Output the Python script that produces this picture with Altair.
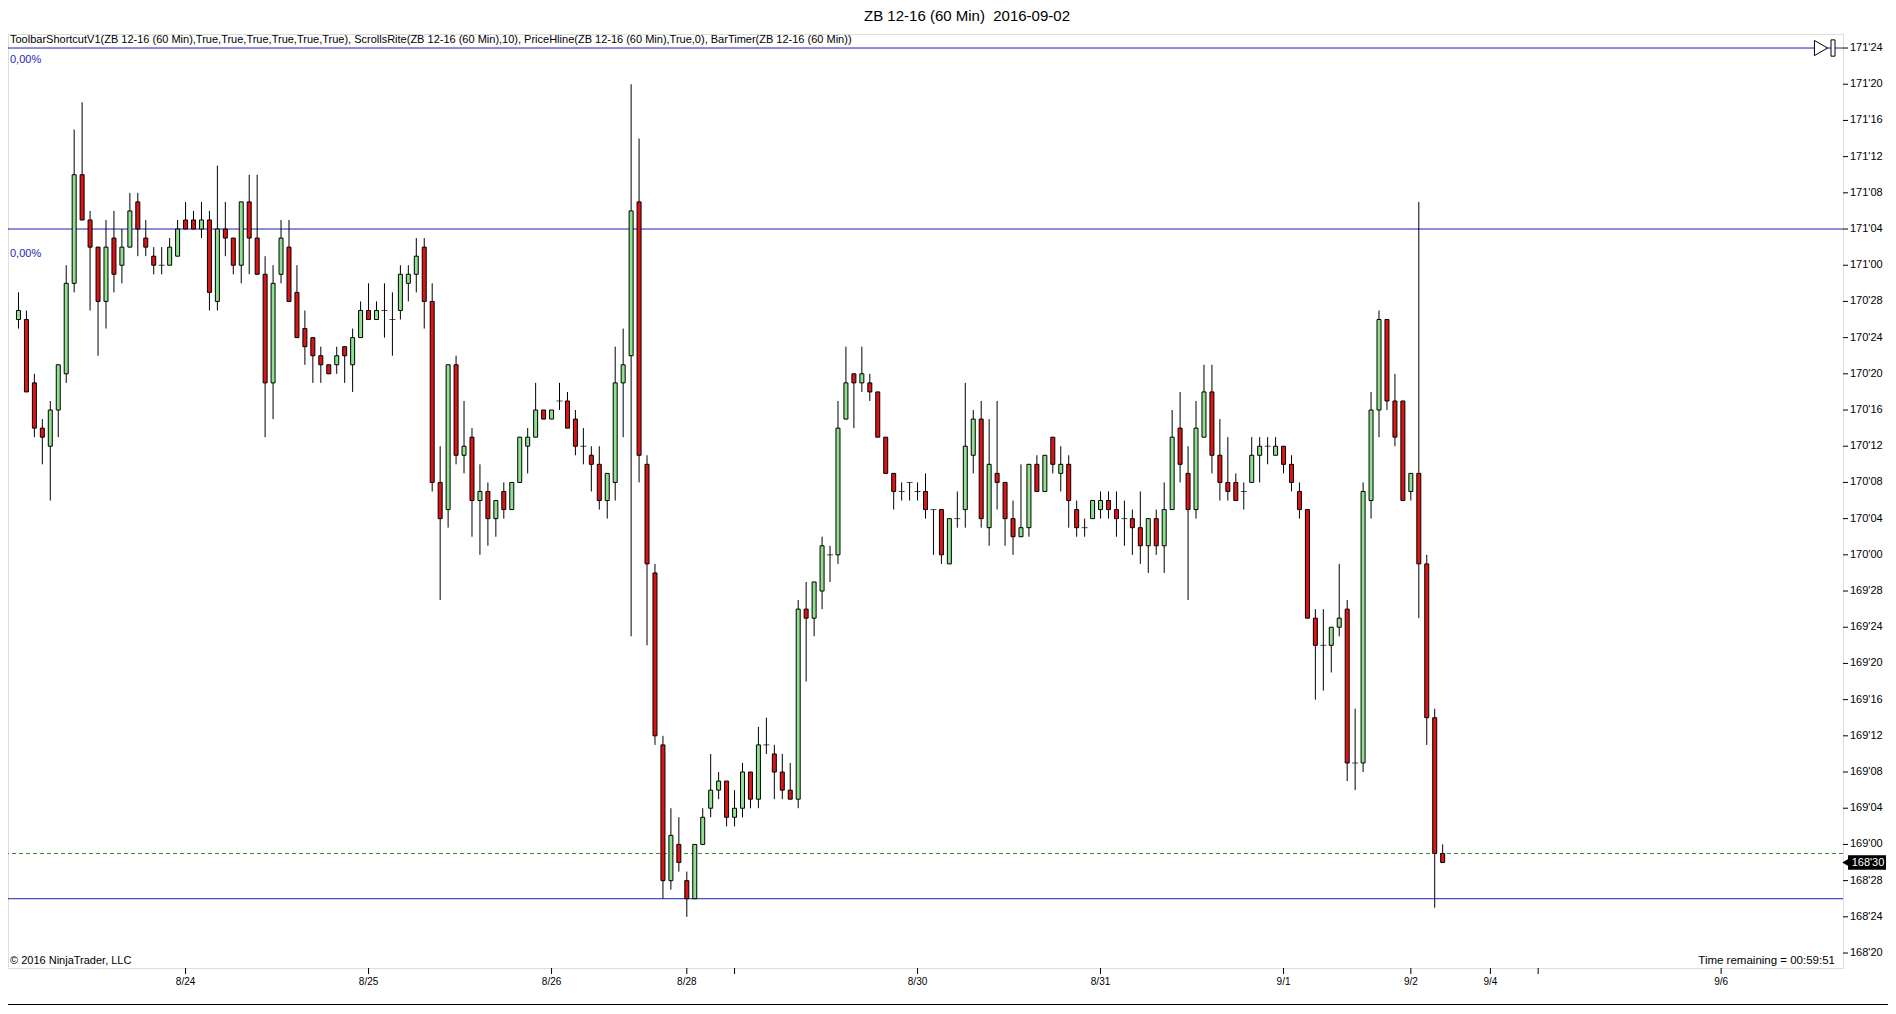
import altair as alt
import pandas as pd

# Prices are stored in 32nds above 168'00  (e.g. 30 -> 168'30, 100 -> 171'04)
BASE = 168

opens = [90, 90, 83, 78, 76, 80, 84, 94, 106, 101,
         98, 92, 99, 96, 98, 103, 99, 97, 96, 96,
         97, 101, 101, 100, 101, 92, 100, 99, 96, 103,
         99, 95, 83, 95, 98, 93, 89, 88, 86, 85,
         85, 87, 85, 88, 91, 90, 91, 90, 91, 94,
         95, 98, 92, 72, 69, 85, 75, 77, 70, 71,
         68, 71, 69, 72, 76, 77, 80, 79, 81, 81,
         79, 76, 75, 74, 70, 72, 83, 86, 103, 74,
         62, 43, 28, 32, 28, 26, 32, 36, 38, 39,
         35, 36, 40, 37, 43, 42, 40, 38, 37, 58,
         57, 60, 64, 64, 79, 84, 83, 83, 82, 77,
         73, 71, 72, 71, 71, 69, 69, 63, 68, 69,
         75, 79, 67, 73, 72, 68, 66, 67, 74, 71,
         77, 73, 74, 69, 67, 68, 69, 70, 69, 68,
         68, 67, 65, 68, 65, 69, 78, 73, 69, 77,
         82, 75, 72, 72, 71, 72, 75, 76, 75, 76,
         74, 71, 69, 57, 54, 54, 56, 58, 41, 41,
         70, 80, 90, 81, 81, 71, 73, 63, 46, 31]

highs = [93, 91, 84, 79, 81, 85, 96, 111, 114, 102,
         98, 101, 102, 100, 104, 104, 101, 98, 98, 99,
         101, 103, 102, 103, 102, 107, 103, 99, 103, 106,
         106, 97, 96, 101, 101, 96, 91, 88, 87, 85,
         87, 87, 89, 92, 94, 92, 94, 93, 96, 96,
         99, 99, 94, 76, 85, 86, 81, 78, 74, 72,
         70, 72, 72, 77, 78, 83, 80, 80, 83, 82,
         80, 78, 76, 76, 73, 87, 89, 116, 110, 75,
         63, 44, 36, 35, 29, 32, 36, 42, 40, 39,
         38, 41, 40, 45, 46, 43, 42, 41, 59, 61,
         61, 66, 65, 81, 87, 84, 87, 84, 82, 77,
         73, 72, 72, 72, 73, 69, 69, 68, 71, 83,
         80, 81, 79, 81, 72, 70, 74, 74, 75, 75,
         77, 76, 75, 70, 68, 70, 71, 71, 71, 70,
         69, 71, 68, 69, 72, 80, 82, 76, 81, 85,
         85, 79, 77, 73, 72, 77, 77, 77, 77, 76,
         75, 72, 69, 58, 58, 56, 63, 59, 47, 72,
         82, 91, 90, 84, 81, 73, 103, 64, 47, 32]

lows = [89, 82, 77, 74, 70, 77, 83, 93, 101, 91,
        86, 89, 93, 94, 98, 97, 97, 95, 95, 96,
        97, 100, 100, 99, 91, 91, 97, 95, 94, 95,
        95, 77, 79, 94, 92, 88, 85, 83, 83, 84,
        84, 83, 82, 88, 90, 90, 88, 86, 90, 92,
        93, 89, 71, 59, 67, 74, 73, 66, 64, 65,
        66, 68, 69, 72, 73, 77, 79, 79, 80, 78,
        75, 74, 71, 69, 68, 70, 77, 55, 72, 54,
        43, 26, 27, 29, 24, 26, 32, 35, 37, 34,
        34, 35, 36, 36, 42, 37, 37, 37, 36, 50,
        55, 58, 61, 63, 79, 78, 82, 81, 77, 73,
        69, 70, 70, 70, 68, 64, 63, 63, 67, 67,
        73, 67, 65, 69, 65, 64, 66, 66, 71, 71,
        73, 71, 67, 66, 66, 68, 68, 68, 66, 65,
        64, 63, 62, 64, 62, 69, 72, 59, 68, 77,
        73, 70, 70, 70, 69, 72, 72, 74, 75, 73,
        71, 68, 57, 48, 49, 51, 55, 39, 38, 40,
        68, 77, 80, 76, 70, 70, 57, 43, 25, 30]

closes = [91, 82, 78, 77, 80, 85, 94, 106, 101, 98,
          92, 98, 95, 98, 102, 100, 98, 96, 96, 98,
          100, 100, 100, 101, 93, 100, 99, 96, 103, 99,
          95, 83, 94, 99, 92, 88, 87, 86, 85, 84,
          86, 86, 88, 91, 90, 91, 91, 90, 95, 95,
          97, 92, 72, 68, 85, 75, 76, 70, 71, 68,
          70, 69, 72, 77, 77, 80, 79, 80, 81, 78,
          76, 76, 74, 70, 73, 83, 85, 102, 75, 63,
          44, 28, 33, 30, 26, 32, 35, 38, 39, 35,
          36, 40, 37, 43, 43, 40, 38, 37, 58, 57,
          61, 65, 64, 78, 83, 83, 84, 82, 77, 73,
          71, 71, 72, 71, 69, 69, 64, 68, 68, 76,
          79, 68, 74, 72, 68, 66, 67, 74, 71, 75,
          74, 74, 70, 67, 67, 70, 70, 69, 68, 68,
          67, 65, 68, 65, 69, 77, 74, 69, 78, 82,
          75, 72, 71, 70, 71, 75, 76, 76, 76, 74,
          72, 69, 57, 54, 54, 56, 57, 41, 41, 71,
          80, 90, 81, 77, 70, 73, 63, 46, 31, 30]

x_tick_bars = [21, 44, 67, 84, 90, 113, 136, 159, 175, 185, 191, 214]
x_tick_labels = ["8/24", "8/25", "8/26", "8/28", "", "8/30", "8/31", "9/1", "9/2", "9/4", "", "9/6"]
y_ticks = list(range(20, 121, 4))
blue_levels = [120, 100, 26]
dash_level = 31
last_price = 30

title_text = "ZB 12-16 (60 Min)\u00a0 2016-09-02"
indicator_text = ("ToolbarShortcutV1(ZB 12-16 (60 Min),True,True,True,True,True,True), "
                  "ScrollsRite(ZB 12-16 (60 Min),10), PriceHline(ZB 12-16 (60 Min),True,0), "
                  "BarTimer(ZB 12-16 (60 Min))")
pct_text = "0,00%"
copyright_text = "\u00a9 2016 NinjaTrader, LLC"
timer_text = "Time remaining = 00:59:51"

FONT = "Liberation Sans"
UP = "#8FE08F"
DOWN = "#DC1414"
BLUE = "#1E1EB4"


def fmt32(v):
    return "%d'%02d" % (BASE + v // 32, v % 32)


n = len(closes)
df = pd.DataFrame({"bar": list(range(n)), "o": opens, "h": highs, "l": lows, "c": closes})
df["dir"] = ["up" if c > o else ("down" if c < o else "flat") for o, c in zip(opens, closes)]
bodies = df[df["dir"] != "flat"]
dojis = df[df["dir"] == "flat"]

W, H = 1835, 934
xs = alt.Scale(domain=[-0.6875, 228.6875], nice=False, zero=False)
ys = alt.Scale(domain=[121.55 - H / 9.05, 121.55], nice=False, zero=False)

X = lambda f: alt.X(f, scale=xs, axis=None)
Y = lambda f: alt.Y(f, scale=ys, axis=None)

wicks = alt.Chart(df).mark_rule(color="black", strokeWidth=1).encode(
    x=X("bar:Q"), y=Y("l:Q"), y2="h:Q")

body = alt.Chart(bodies).mark_bar(size=4, stroke="black", strokeWidth=1).encode(
    x=X("bar:Q"), y=Y("o:Q"), y2="c:Q",
    color=alt.Color("dir:N", scale=alt.Scale(domain=["up", "down"], range=[UP, DOWN]), legend=None),
)

doji = alt.Chart(dojis).mark_tick(orient="horizontal", size=6, thickness=1, color="black").encode(
    x=X("bar:Q"), y=Y("o:Q"))

blue_lines = alt.Chart(pd.DataFrame({"lvl": blue_levels})).mark_rule(color=BLUE, strokeWidth=1).encode(
    y=Y("lvl:Q"))
dash_line = alt.Chart(pd.DataFrame({"lvl": [dash_level]})).mark_rule(
    color="#2E8B2E", strokeWidth=1, strokeDash=[4, 3]).encode(y=Y("lvl:Q"))

# right price axis (drawn through the y scale)
ytick_df = pd.DataFrame({"v": y_ticks, "lab": [fmt32(v) for v in y_ticks]})
y_tick_marks = alt.Chart(ytick_df).mark_rule(color="black", strokeWidth=1).encode(
    x=alt.value(W), x2=alt.value(W + 5), y=Y("v:Q"))
y_tick_text = alt.Chart(ytick_df).mark_text(font=FONT, fontSize=11, color="black", align="left",
                                            baseline="middle").encode(
    x=alt.value(W + 7), y=Y("v:Q"), text="lab:N")

# bottom date axis (drawn through the x scale)
xtick_df = pd.DataFrame({"b": x_tick_bars, "lab": x_tick_labels})
x_tick_marks = alt.Chart(xtick_df).mark_rule(color="black", strokeWidth=1).encode(
    x=X("b:Q"), y=alt.value(H), y2=alt.value(H + 6))
x_tick_text = alt.Chart(xtick_df).mark_text(font=FONT, fontSize=10, color="black", align="center",
                                            baseline="middle").encode(
    x=X("b:Q"), y=alt.value(H + 14), text="lab:N")


def txt(s, x, y, size=10, color="black", align="left", baseline="middle"):
    return alt.Chart(pd.DataFrame({"t": [s]})).mark_text(
        font=FONT, fontSize=size, color=color, align=align, baseline=baseline
    ).encode(text="t:N", x=alt.value(x), y=alt.value(y))


title = txt(title_text, 959, -18, size=15, align="center")
indicator = txt(indicator_text, 2, 5.5, size=11)
pct1 = txt(pct_text, 2, 26, size=11, color=BLUE)
pct2 = txt(pct_text, 2, 220, size=11, color=BLUE)
copyr = txt(copyright_text, 2, 927, size=11)
timer = txt(timer_text, 1827, 927, size=11.5, align="right")

last_df = pd.DataFrame({"v": [last_price], "lab": [fmt32(last_price)]})
marker_rect = alt.Chart(last_df).transform_calculate(
    lo="datum.v - 0.8", hi="datum.v + 0.8").mark_rect(color="black").encode(
    x=alt.value(1840), x2=alt.value(1878), y=Y("lo:Q"), y2="hi:Q")
marker_tri = alt.Chart(last_df).mark_point(shape="triangle-left", filled=True, color="black",
                                            size=120, opacity=1).encode(
    x=alt.value(1839), y=Y("v:Q"))
marker_txt = alt.Chart(last_df).mark_text(font=FONT, fontSize=11, color="white", align="center",
                                          baseline="middle").encode(
    x=alt.value(1860), y=Y("v:Q"), text="lab:N")

icon_df = pd.DataFrame({"v": [blue_levels[0]]})
icon_tri = alt.Chart(icon_df).mark_point(shape="triangle-right", filled=True, fill="white",
                                          stroke="black", strokeWidth=1, size=230, opacity=1).encode(
    x=alt.value(1813), y=Y("v:Q"))
icon_bar = alt.Chart(icon_df).transform_calculate(
    lo="datum.v - 0.9", hi="datum.v + 0.9").mark_rect(fill="white", stroke="black", strokeWidth=1).encode(
    x=alt.value(1823), x2=alt.value(1827), y=Y("lo:Q"), y2="hi:Q")

bottom_border = alt.Chart(pd.DataFrame({"a": [0]})).mark_rule(color="black", strokeWidth=1).encode(
    x=alt.value(-8), x2=alt.value(1880), y=alt.value(970.5))

chart = alt.layer(
    blue_lines, dash_line, wicks, body, doji,
    y_tick_marks, y_tick_text, x_tick_marks, x_tick_text,
    title, indicator, pct1, pct2, copyr, timer,
    marker_rect, marker_tri, marker_txt, icon_tri, icon_bar, bottom_border,
).properties(
    width=W, height=H,
    autosize=alt.AutoSizeParams(type="none"),
    padding={"left": 0, "top": 26, "right": 45, "bottom": 38},
    background="white",
).configure_view(stroke="black", strokeWidth=1).configure(font=FONT)

chart.save("out.html", embed_options={"renderer": "svg", "actions": False})
